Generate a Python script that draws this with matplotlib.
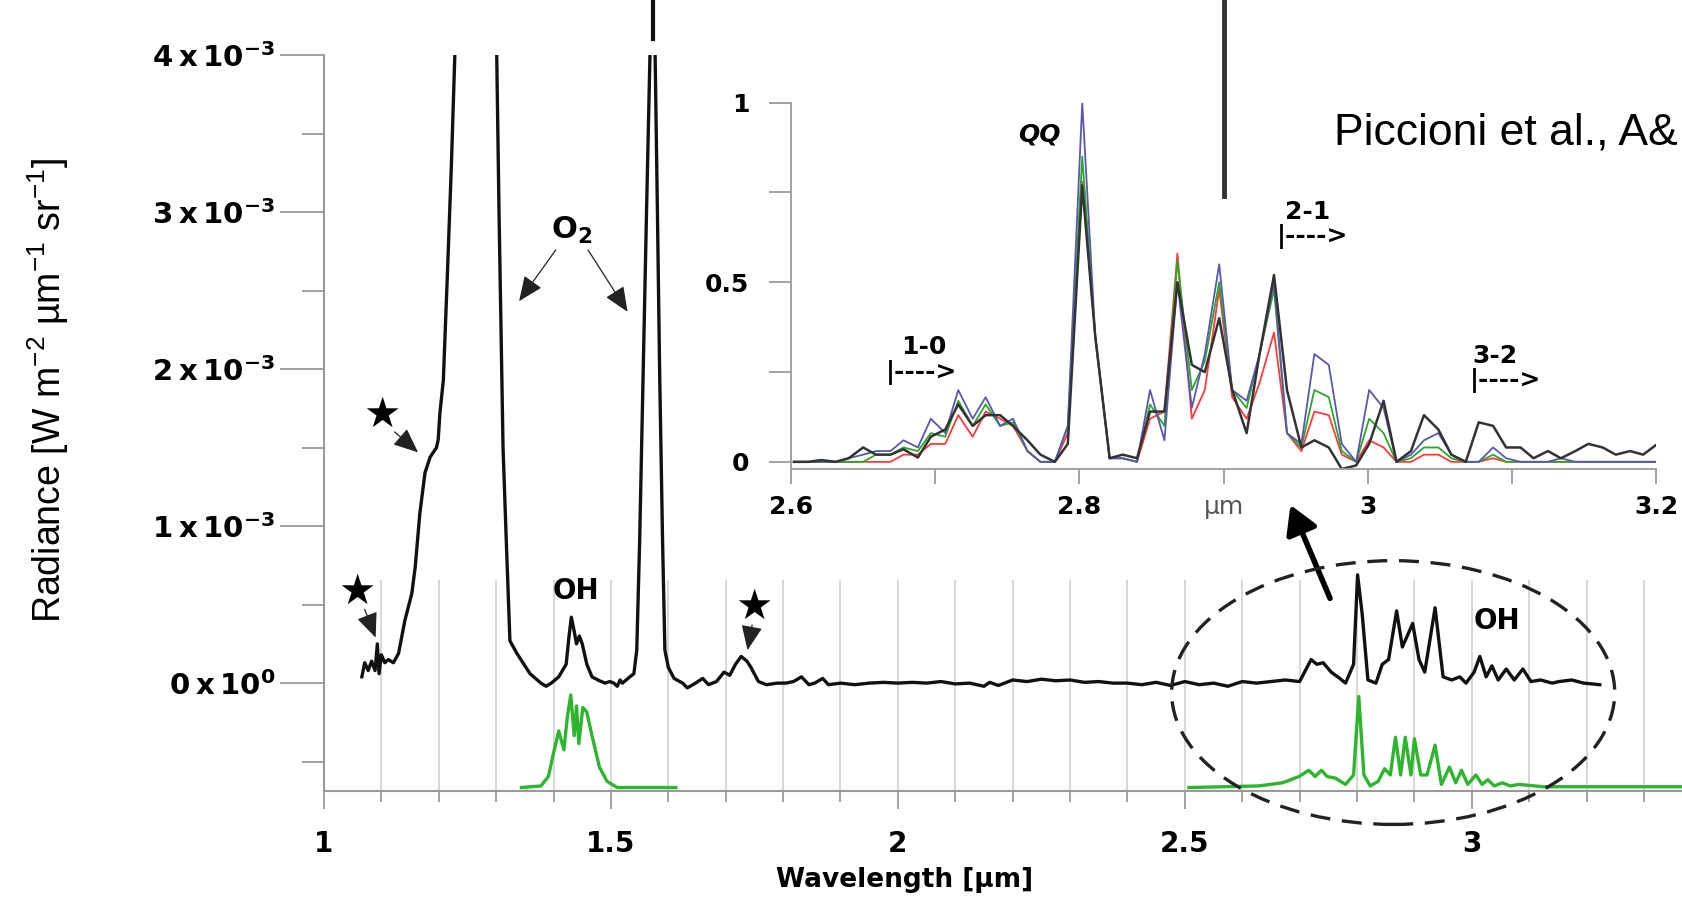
import numpy as np
import matplotlib
matplotlib.use('Agg')
import matplotlib.pyplot as plt
from matplotlib.patches import Ellipse
from matplotlib.ticker import MultipleLocator

plt.rcParams['font.family'] = 'DejaVu Sans'
plt.rcParams['mathtext.default'] = 'regular'

# Observed nightglow spectrum (radiance in units of 1e-3 W m-2 um-1 sr-1)
obs_wl = [1.066, 1.071, 1.077, 1.083, 1.089, 1.093, 1.096, 1.100, 1.106, 1.112,
          1.121, 1.130, 1.141, 1.153, 1.159, 1.167, 1.176, 1.185, 1.196, 1.199,
          1.202, 1.208, 1.215, 1.222, 1.228, 1.240, 1.255, 1.270, 1.285, 1.296,
          1.301, 1.305, 1.310, 1.312, 1.318, 1.324, 1.336, 1.359, 1.378, 1.387,
          1.396, 1.409, 1.422, 1.427, 1.431, 1.436, 1.440, 1.445, 1.450, 1.458,
          1.467, 1.480, 1.490, 1.498, 1.505, 1.511, 1.516, 1.520, 1.533, 1.540,
          1.545, 1.550, 1.556, 1.562, 1.568, 1.5725, 1.577, 1.581, 1.585, 1.590,
          1.594, 1.600, 1.610, 1.625, 1.633, 1.643, 1.660, 1.670, 1.684, 1.697,
          1.707, 1.717, 1.727, 1.737, 1.744, 1.757, 1.771, 1.790, 1.805, 1.818,
          1.832, 1.845, 1.855, 1.869, 1.879, 1.900, 1.925, 1.950, 1.975, 2.000,
          2.025, 2.050, 2.075, 2.100, 2.125, 2.150, 2.160, 2.175, 2.200, 2.225,
          2.250, 2.275, 2.300, 2.325, 2.350, 2.375, 2.400, 2.425, 2.450, 2.475,
          2.500, 2.525, 2.550, 2.575, 2.600, 2.625, 2.650, 2.675, 2.700, 2.720,
          2.730, 2.741, 2.755, 2.770, 2.780, 2.794, 2.801, 2.809, 2.819, 2.833,
          2.844, 2.855, 2.869, 2.879, 2.897, 2.908, 2.918, 2.936, 2.950, 2.965,
          2.979, 2.990, 3.004, 3.014, 3.025, 3.035, 3.046, 3.060, 3.074, 3.089,
          3.103, 3.120, 3.140, 3.152, 3.174, 3.195, 3.223]
obs_rad = [0.04, 0.13, 0.08, 0.14, 0.08, 0.25, 0.06, 0.18, 0.13, 0.15,
           0.13, 0.19, 0.40, 0.57, 0.74, 1.08, 1.34, 1.44, 1.50, 1.55,
           1.72, 1.93, 2.60, 3.30, 4.00, 6.0, 9.0, 10.0, 9.0, 6.0,
           4.00, 3.00, 1.93, 1.50, 0.87, 0.27, 0.19, 0.06, 0.00, -0.02,
           0.00, 0.04, 0.12, 0.30, 0.42, 0.33, 0.25, 0.30, 0.25, 0.12,
           0.04, 0.015, 0.00, 0.01, 0.00, -0.02, 0.02, 0.00, 0.04, 0.06,
           0.21, 0.90, 1.95, 3.00, 4.00, 7.0, 4.00, 3.00, 1.95, 0.90,
           0.21, 0.10, 0.03, 0.00, -0.03, -0.01, 0.03, -0.01, 0.01, 0.07,
           0.05, 0.12, 0.17, 0.14, 0.10, 0.01, -0.01, 0.00, 0.00, 0.01,
           0.04, -0.01, 0.00, 0.03, -0.01, 0.00, -0.01, 0.00, 0.005, 0.00,
           0.005, 0.00, 0.01, -0.005, 0.00, -0.02, 0.005, -0.015, 0.02, 0.01,
           0.025, 0.015, 0.02, 0.005, 0.01, 0.00, 0.00, -0.01, 0.005, -0.015,
           0.01, -0.01, 0.00, -0.02, 0.01, 0.00, 0.01, 0.02, 0.01, 0.15,
           0.12, 0.13, 0.07, 0.03, 0.00, 0.12, 0.69, 0.44, 0.02, 0.00,
           0.12, 0.15, 0.46, 0.23, 0.38, 0.15, 0.07, 0.48, 0.04, 0.02,
           0.04, 0.00, 0.07, 0.17, 0.04, 0.11, 0.02, 0.09, 0.02, 0.09,
           0.01, 0.02, 0.00, 0.01, 0.02, 0.00, -0.01]

# Modelled OH emission (drawn below the observation, shifted by MODEL_SHIFT)
model_wl_a = [1.344, 1.378, 1.391, 1.400, 1.409, 1.418, 1.424, 1.430, 1.436, 1.440,
              1.444, 1.451, 1.458, 1.467, 1.480, 1.493, 1.511, 1.613]
model_a = [0.0, 0.01, 0.07, 0.22, 0.36, 0.24, 0.45, 0.59, 0.33, 0.52,
           0.28, 0.51, 0.48, 0.33, 0.13, 0.04, 0.0, 0.0]
model_wl_b = [2.507, 2.628, 2.670, 2.699, 2.716, 2.727, 2.738, 2.748, 2.762, 2.780,
              2.794, 2.803, 2.812, 2.823, 2.837, 2.848, 2.858, 2.867, 2.876, 2.884,
              2.894, 2.900, 2.911, 2.922, 2.936, 2.947, 2.961, 2.972, 2.982, 2.993,
              3.007, 3.018, 3.028, 3.039, 3.053, 3.067, 3.082, 3.124, 3.370]
model_b = [0.0, 0.01, 0.03, 0.07, 0.11, 0.07, 0.11, 0.07, 0.06, 0.02,
           0.08, 0.58, 0.08, 0.01, 0.04, 0.12, 0.08, 0.32, 0.08, 0.32,
           0.08, 0.31, 0.08, 0.08, 0.27, 0.02, 0.13, 0.03, 0.11, 0.02,
           0.08, 0.02, 0.05, 0.01, 0.03, 0.01, 0.02, 0.005, 0.005]
MODEL_SHIFT = -0.665

# Inset: normalised OH spectra
inset_wl = [2.602, 2.612, 2.621, 2.631, 2.640, 2.650, 2.659, 2.669, 2.678, 2.688,
            2.697, 2.707, 2.716, 2.726, 2.735, 2.745, 2.754, 2.764, 2.773, 2.783,
            2.792, 2.802, 2.811, 2.821, 2.830, 2.840, 2.849, 2.859, 2.868, 2.878,
            2.887, 2.897, 2.906, 2.916, 2.925, 2.935, 2.944, 2.954, 2.963, 2.973,
            2.982, 2.992, 3.001, 3.011, 3.020, 3.030, 3.039, 3.049, 3.058, 3.068,
            3.077, 3.087, 3.096, 3.106, 3.115, 3.125, 3.134, 3.144, 3.153, 3.163,
            3.172, 3.182, 3.191, 3.201]
inset_blue = [0.0, 0.0, 0.0, 0.0, 0.01, 0.02, 0.03, 0.03, 0.06, 0.04,
              0.12, 0.08, 0.20, 0.12, 0.18, 0.10, 0.12, 0.03, 0.0, 0.0,
              0.10, 1.00, 0.35, 0.01, 0.01, 0.0, 0.20, 0.06, 0.50, 0.15,
              0.30, 0.55, 0.20, 0.17, 0.30, 0.50, 0.08, 0.05, 0.30, 0.27,
              0.05, 0.0, 0.20, 0.15, 0.0, 0.02, 0.06, 0.08, 0.02, 0.0,
              0.0, 0.04, 0.01, 0.0, 0.0, 0.0, 0.01, 0.0, 0.0, 0.0,
              0.0, 0.0, 0.0, 0.0]
inset_red = [0.0, 0.0, 0.0, 0.0, 0.0, 0.0, 0.0, 0.0, 0.02, 0.02,
             0.05, 0.05, 0.13, 0.07, 0.14, 0.12, 0.10, 0.03, 0.0, 0.0,
             0.08, 0.78, 0.35, 0.01, 0.01, 0.0, 0.12, 0.14, 0.58, 0.12,
             0.20, 0.48, 0.18, 0.12, 0.22, 0.36, 0.08, 0.03, 0.14, 0.13,
             0.02, 0.0, 0.06, 0.04, 0.0, 0.0, 0.02, 0.02, 0.0, 0.0,
             0.0, 0.01, 0.0, 0.0, 0.0, 0.0, 0.0, 0.0, 0.0, 0.0,
             0.0, 0.0, 0.0, 0.0]
inset_green = [0.0, 0.0, 0.0, 0.0, 0.0, 0.0, 0.02, 0.02, 0.04, 0.03,
               0.08, 0.07, 0.17, 0.10, 0.16, 0.10, 0.11, 0.03, 0.0, 0.0,
               0.10, 0.85, 0.35, 0.01, 0.01, 0.0, 0.16, 0.10, 0.56, 0.20,
               0.28, 0.50, 0.20, 0.15, 0.30, 0.48, 0.08, 0.04, 0.20, 0.18,
               0.03, 0.0, 0.12, 0.08, 0.0, 0.01, 0.04, 0.04, 0.01, 0.0,
               0.0, 0.02, 0.0, 0.0, 0.0, 0.0, 0.0, 0.0, 0.0, 0.0,
               0.0, 0.0, 0.0, 0.0]
inset_dark = [0.0, 0.0, 0.005, 0.0, 0.01, 0.04, 0.02, 0.02, 0.035, 0.012,
              0.07, 0.09, 0.16, 0.10, 0.13, 0.13, 0.10, 0.06, 0.02, 0.0,
              0.05, 0.77, 0.35, 0.01, 0.02, 0.01, 0.14, 0.14, 0.50, 0.27,
              0.25, 0.40, 0.20, 0.08, 0.30, 0.52, 0.20, 0.04, 0.06, 0.04,
              -0.02, -0.01, 0.05, 0.17, 0.0, 0.03, 0.13, 0.09, 0.02, 0.0,
              0.11, 0.10, 0.04, 0.04, 0.01, 0.03, 0.01, 0.03, 0.05, 0.04,
              0.02, 0.03, 0.02, 0.05]

y_ticks = [0, 1, 2, 3, 4]
y_labels = ['0\u2009x\u200910$^{0}$', '1\u2009x\u200910$^{-3}$', '2\u2009x\u200910$^{-3}$',
            '3\u2009x\u200910$^{-3}$', '4\u2009x\u200910$^{-3}$']
x_ticks = [1, 1.5, 2, 2.5, 3]
x_labels = ['1', '1.5', '2', '2.5', '3']
inset_xticks = [2.6, 2.7, 2.8, 2.9, 3.0, 3.1, 3.2]
inset_xlabels = ['2.6', '', '2.8', 'µm', '3', '', '3.2']
inset_yticks = [0, 0.5, 1]
inset_ylabels = ['0', '0.5', '1']

GREY = '#9a9a9a'
GREEN = '#2db52d'

fig = plt.figure(figsize=(16.83, 8.98), dpi=100)
ax = fig.add_axes([0.1925, 0.119, 0.8075, 0.8196])
ymin = -0.688
ax.set_xlim(1, 3.368)
ax.set_ylim(ymin, 4.0)

# short vertical grid lines
grid_x = np.arange(1.1, 3.35, 0.1)
ax.vlines(grid_x, ymin, 0.66, color='#d4d4d4', lw=1.3, zorder=0)

ax.plot(obs_wl, obs_rad, color='#111111', lw=2.4, zorder=3)
ax.plot(model_wl_a, np.array(model_a) + MODEL_SHIFT, color=GREEN, lw=2.4, zorder=3)
ax.plot(model_wl_b, np.array(model_b) + MODEL_SHIFT, color=GREEN, lw=2.4, zorder=3)

# 1.58 um peak runs off the top of the axes
wl = np.array(obs_wl)
rad = np.array(obs_rad)
sel = wl > 1.5
peak_x = wl[sel][np.argmax(rad[sel])]
ax.plot([peak_x, peak_x], [1.022, 1.075], transform=ax.get_xaxis_transform(),
        color='#111111', lw=3, clip_on=False)

for s in ['top', 'right']:
    ax.spines[s].set_visible(False)
for s in ['left', 'bottom']:
    ax.spines[s].set_color(GREY)
    ax.spines[s].set_linewidth(1.5)

ax.set_yticks(y_ticks)
ax.set_yticklabels(y_labels, fontweight='bold', fontsize=21)
ax.yaxis.set_minor_locator(MultipleLocator(0.5))
ax.set_xticks(x_ticks)
ax.set_xticklabels(x_labels, fontweight='bold', fontsize=20)
ax.xaxis.set_minor_locator(MultipleLocator(0.1))
ax.tick_params(axis='y', which='major', length=32, width=1.3, color=GREY, pad=3)
ax.tick_params(axis='y', which='minor', length=16, width=1.3, color=GREY)
ax.tick_params(axis='x', which='major', length=13, width=1.3, color=GREY, pad=15)
ax.tick_params(axis='x', which='minor', length=8, width=1.3, color=GREY)

ax.set_xlabel('Wavelength [µm]', fontweight='bold', fontsize=19, va='center')
ax.xaxis.set_label_coords(0.4275, -0.121)
ax.set_ylabel('Radiance [W m$^{-2}$ µm$^{-1}$ sr$^{-1}$]', family='Liberation Sans',
              fontsize=27, va='center')
ax.yaxis.set_label_coords(-0.203, 0.545)

# stars and small arrows
small_head = dict(arrowstyle='-|>,head_length=0.7,head_width=0.3', color='#222222',
                  lw=0.9, mutation_scale=22, shrinkA=0, shrinkB=0)
stars = [((1.058, 0.58), (1.071, 0.47), (1.090, 0.29)),
         ((1.101, 1.71), (1.123, 1.60), (1.164, 1.47)),
         ((1.750, 0.485), (1.746, 0.37), (1.738, 0.21))]
for (sx, sy), tail, tip in stars:
    ax.text(sx, sy, '★', fontsize=30, ha='center', va='center')
    ax.annotate('', xy=tip, xytext=tail, arrowprops=small_head)

ax.text(1.432, 2.885, 'O$_2$', fontsize=22, fontweight='bold', ha='center', va='center')
ax.annotate('', xy=(1.340, 2.433), xytext=(1.404, 2.760), arrowprops=small_head)
ax.annotate('', xy=(1.529, 2.365), xytext=(1.460, 2.760), arrowprops=small_head)
ax.text(1.439, 0.588, 'OH', fontsize=20, fontweight='bold', ha='center', va='center')
ax.text(3.043, 0.396, 'OH', fontsize=20, fontweight='bold', ha='center', va='center')

ax.add_patch(Ellipse((2.863, -0.06), 0.772, 1.68, fill=False, ec='#222222', lw=2.4,
                     ls=(0, (6, 3.5)), clip_on=False, zorder=4))
ax.annotate('', xy=(2.684, 1.135), xytext=(2.753, 0.54),
            arrowprops=dict(arrowstyle='-|>,head_length=0.6,head_width=0.35',
                            color='black', lw=4, mutation_scale=28, shrinkA=0, shrinkB=0))

# inset
ins = fig.add_axes([0.470, 0.4777, 0.514, 0.408])
ins.patch.set_alpha(0)
ins.set_xlim(2.6, 3.2)
ins.set_ylim(-0.02, 1.0)
ins.plot(inset_wl, inset_red, color='#ff3b3b', lw=1.3)
ins.plot(inset_wl, inset_green, color='#2aa82a', lw=1.3)
ins.plot(inset_wl, inset_blue, color='#5858b0', lw=1.3)
ins.plot(inset_wl, inset_dark, color='#333333', lw=1.8)
ins.plot([2.9, 2.9], [0.744, 1.3], transform=ins.get_xaxis_transform(),
         color='#333333', lw=3.5, clip_on=False)

for s in ['top', 'right']:
    ins.spines[s].set_visible(False)
for s in ['left', 'bottom']:
    ins.spines[s].set_color(GREY)
    ins.spines[s].set_linewidth(1.3)
ins.set_xticks(inset_xticks)
ins.set_xticklabels(inset_xlabels, fontweight='bold', fontsize=18)
ins.set_yticks(inset_yticks)
ins.set_yticklabels(inset_ylabels, fontweight='bold', fontsize=18)
ins.yaxis.set_minor_locator(MultipleLocator(0.25))
ins.tick_params(axis='x', which='major', length=11, width=1.3, color=GREY, pad=8)
ins.tick_params(axis='y', which='both', length=16, width=1.3, color=GREY, pad=14)
for lab in ins.get_xticklabels():
    if lab.get_text() == 'µm':
        lab.set_fontweight('normal')
        lab.set_color('#555555')

ins.text(2.772, 0.91, 'QQ', fontsize=18, fontweight='bold', fontstyle='italic',
         ha='center', va='center')
bands = [('1-0', 2.692, 0.32, 2.666, 0.25),
         ('2-1', 2.958, 0.695, 2.937, 0.627),
         ('3-2', 3.088, 0.296, 3.071, 0.227)]
for name, tx, ty, ax_, ay in bands:
    ins.text(tx, ty, name, fontsize=18, fontweight='bold', ha='center', va='center')
    ins.text(ax_, ay, '|---->', fontsize=18, fontweight='bold', ha='left', va='center')

fig.text(1334 / 1683, 1 - 144 / 898, 'Piccioni et al., A&', family='Liberation Sans',
         fontsize=32, va='baseline', ha='left')

fig.savefig('out.png', dpi=100)
